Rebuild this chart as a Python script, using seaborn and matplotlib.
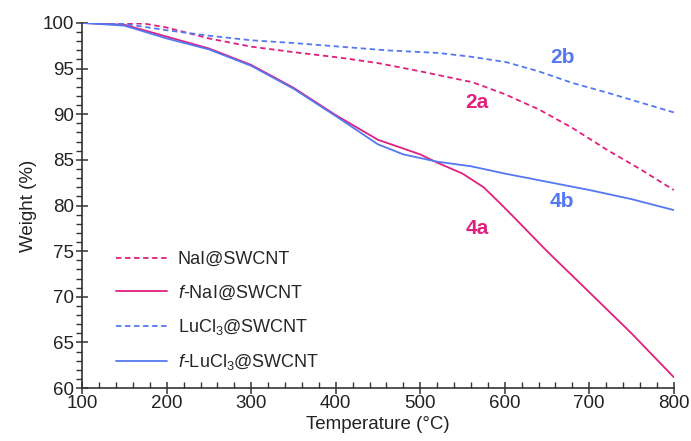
import numpy as np
import pandas as pd
import matplotlib
matplotlib.use("Agg")
import matplotlib.pyplot as plt
import seaborn as sns

# Temperatures (°C) and weights (%)
temp_nai = [100, 150, 175, 200, 250, 300, 350, 405, 450, 500, 562, 600, 641, 680, 721, 760, 800]
w_nai = [100.0, 100.0, 99.9, 99.5, 98.3, 97.4, 96.8, 96.2, 95.6, 94.7, 93.5, 92.2, 90.5, 88.5, 86.1, 84.0, 81.7]

temp_lucl = [100, 150, 200, 250, 300, 350, 405, 460, 523, 560, 602, 640, 681, 720, 760, 800]
w_lucl = [100.0, 99.9, 99.2, 98.6, 98.1, 97.8, 97.4, 97.0, 96.7, 96.3, 95.7, 94.7, 93.4, 92.4, 91.3, 90.2]

temp_fnai = [100, 150, 200, 250, 300, 350, 400, 450, 500, 520, 550, 575, 595, 610, 650, 689, 750, 800]
w_fnai = [100.0, 99.8, 98.5, 97.2, 95.4, 92.9, 89.9, 87.2, 85.6, 84.7, 83.5, 82.0, 80.2, 78.8, 75.0, 71.5, 66.0, 61.2]

temp_flucl = [100, 150, 200, 250, 300, 350, 400, 450, 480, 520, 560, 600, 650, 700, 750, 800]
w_flucl = [100.0, 99.7, 98.3, 97.1, 95.3, 92.8, 89.8, 86.7, 85.6, 84.8, 84.3, 83.5, 82.6, 81.7, 80.7, 79.5]

labels = ["NaI@SWCNT", "$f$-NaI@SWCNT", "LuCl$_3$@SWCNT", "$f$-LuCl$_3$@SWCNT"]
x_ticks = [100, 200, 300, 400, 500, 600, 700, 800]
y_ticks = [60, 65, 70, 75, 80, 85, 90, 95, 100]

MAG = "#e0207f"
BLU = "#5478f2"

sns.set_theme(style="ticks")
plt.rcParams["font.family"] = ["Liberation Sans", "DejaVu Sans"]
plt.rcParams["mathtext.fontset"] = "custom"
plt.rcParams["mathtext.rm"] = "Liberation Sans"
plt.rcParams["mathtext.it"] = "Liberation Sans:italic"

fig = plt.figure(figsize=(6.91, 4.41), dpi=100)
ax = fig.add_axes([0.119, 0.12, 0.856, 0.828])

series = [
    (temp_nai, w_nai, labels[0], MAG, (0, (3, 2))),
    (temp_fnai, w_fnai, labels[1], MAG, "-"),
    (temp_lucl, w_lucl, labels[2], BLU, (0, (3, 2))),
    (temp_flucl, w_flucl, labels[3], BLU, "-"),
]
for t, w, lab, c, ls in series:
    sns.lineplot(x=t, y=w, ax=ax, color=c, linestyle=ls, linewidth=1.3, label=lab)

ax.set_xlim(100, 800)
ax.set_ylim(60, 100)
ax.set_xticks(x_ticks)
ax.set_yticks(y_ticks)
ax.set_xticks(np.arange(100, 801, 20), minor=True)
ax.set_yticks(np.arange(60, 100.1, 1), minor=True)
sns.despine(ax=ax)
for s in ["left", "bottom"]:
    ax.spines[s].set_color("#333333")
    ax.spines[s].set_linewidth(1.2)
ax.tick_params(axis="both", which="major", direction="inout", length=8, width=1.1,
               colors="#333333", labelsize=13.5, labelcolor="#222222")
ax.tick_params(axis="x", which="minor", direction="in", length=4, width=1, colors="#333333")
ax.tick_params(axis="y", which="minor", direction="out", length=4, width=1, colors="#333333")
ax.tick_params(axis="x", which="major", pad=1)
ax.tick_params(axis="y", which="major", pad=2)
ax.set_xlabel("Temperature (°C)", fontsize=13.5, color="#222222", labelpad=3)
ax.set_ylabel("Weight (%)", fontsize=13.5, color="#222222", labelpad=4)

ax.text(668, 96.2, "2b", color=BLU, fontsize=15, fontweight="bold", ha="center", va="center")
ax.text(567, 91.3, "2a", color=MAG, fontsize=15, fontweight="bold", ha="center", va="center")
ax.text(567, 77.5, "4a", color=MAG, fontsize=15, fontweight="bold", ha="center", va="center")
ax.text(668, 80.4, "4b", color=BLU, fontsize=15, fontweight="bold", ha="center", va="center")

ax.legend(loc="upper left", bbox_to_anchor=(0.03, 0.42), frameon=False, fontsize=13,
          handlelength=2.8, labelspacing=0.85, handletextpad=0.6)

fig.savefig("out.png", dpi=100)
